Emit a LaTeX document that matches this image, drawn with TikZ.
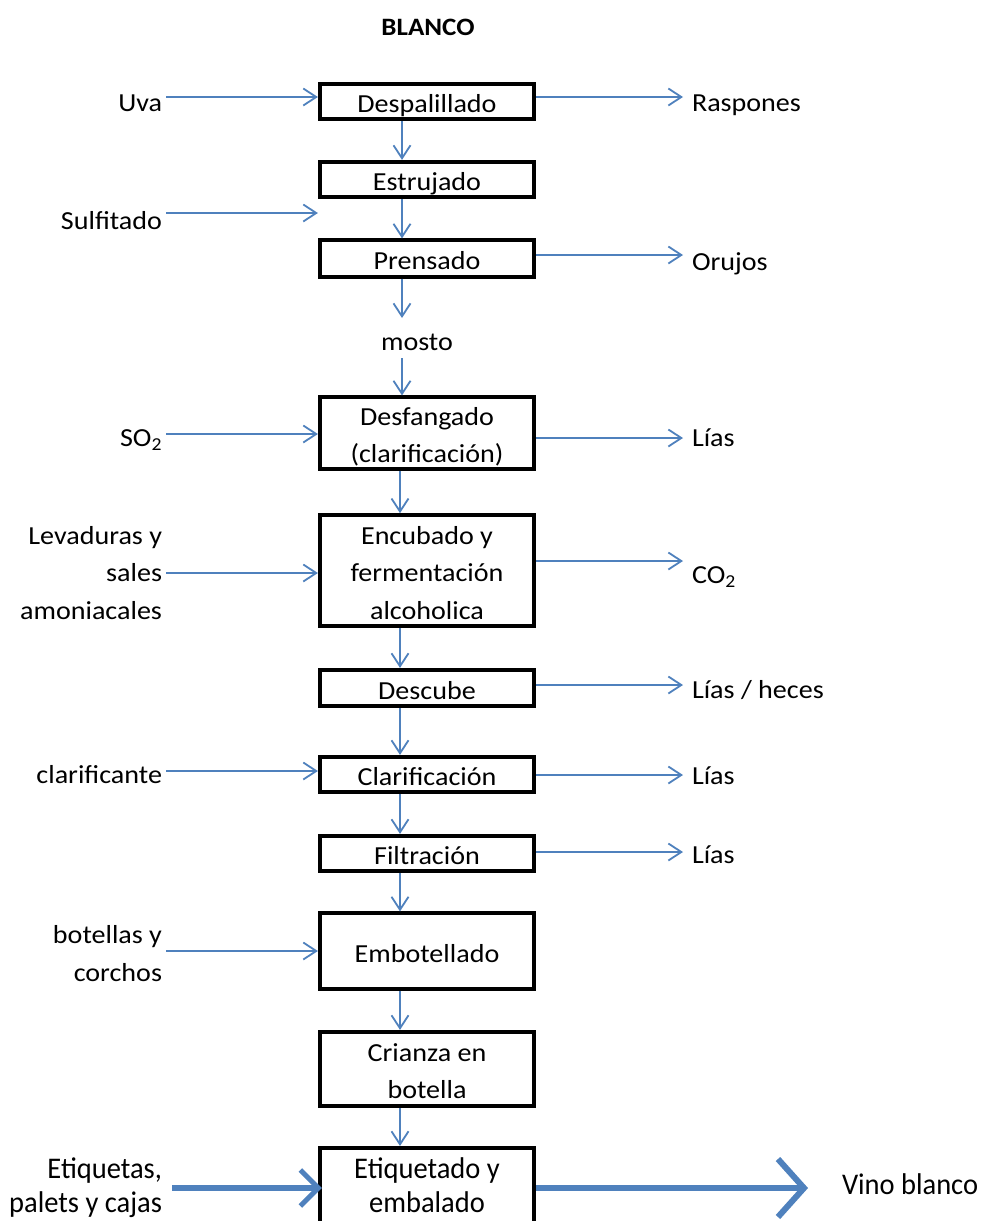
\documentclass[tikz,border=0pt]{standalone}
\usepackage{fontspec}
\setmainfont[FakeStretch=1.08]{Carlito}
\newfontfamily\narrowfont[FakeStretch=0.95]{Carlito}
\usetikzlibrary{arrows.meta}
\definecolor{flowblue}{HTML}{4F81BD}
% invisible struts that place the text inside the stage boxes
\newcommand\boxtop{\rule{0pt}{28pt}}
\newcommand\boxbot{\rule[-6pt]{0pt}{6pt}}
\newcommand\boxtopbig{\rule{0pt}{24pt}}
\newcommand\boxbotbig{\rule[-4.8pt]{0pt}{4.8pt}}

\begin{document}
\begin{tikzpicture}[x=1pt,y=-1pt,
  txt/.style={font=\fontsize{26}{37.5}\selectfont, inner sep=0pt},
  bigtxt/.style={font=\narrowfont\fontsize{30}{34}\selectfont, inner sep=0pt},
  stage/.style={txt, draw=black, line width=3.7pt,
    minimum width=214.5pt, align=center, anchor=center},
  inlbl/.style={txt, anchor=east, align=right, outer sep=4pt},
  outlbl/.style={txt, anchor=west, align=left, outer sep=9pt},
  flow/.style={draw=flowblue, line width=1.8pt,
    -{Straight Barb[length=13pt,width=17pt,line width=1.8pt]}},
  fineflow/.style={flow, line width=1.2pt},
  heavyflow/.style={draw=flowblue, line width=6pt,
    -{Straight Barb[length=18pt,width=36pt,line width=5pt]}},
  heavierflow/.style={draw=flowblue, line width=6pt,
    -{Straight Barb[length=26pt,width=58pt,line width=6pt]}}
]
\clip (0,0) rectangle (981,1221);
\fill[white] (0,0) rectangle (981,1221);

% title
\node[font=\bfseries\fontsize{25}{30}\selectfont, inner sep=0pt] (title) at (428,27) {BLANCO};

% process stages
\node[stage, minimum height=35.5pt] (desp) at (427,101.5) {\boxtop Despalillado\boxbot};
\node[stage, minimum height=35.5pt] (estr) at (427,179.5) {\boxtop Estrujado\boxbot};
\node[stage, minimum height=36.5pt] (prens) at (427,258.5) {\boxtop Prensado\boxbot};
\node[txt] (mosto) at (417,343) {\strut mosto};
\node[stage, minimum height=70.5pt] (desf) at (427,433) {\boxtop Desfangado\\(clarificación)\boxbot};
\node[stage, minimum height=111pt] (encub) at (427,570.5) {\boxtop Encubado y\\fermentación\\alcoholica\boxbot};
\node[stage, minimum height=36.5pt] (descube) at (427,688) {\boxtop Descube\boxbot};
\node[stage, minimum height=35.5pt] (clarif) at (427,774.5) {\boxtop Clarificación\boxbot};
\node[stage, minimum height=35.5pt] (filtr) at (427,853.5) {\boxtop Filtración\boxbot};
\node[stage, minimum height=75.5pt] (embot) at (427,951) {\boxtop Embotellado\boxbot};
\node[stage, minimum height=74.5pt] (crianza) at (427,1069) {\boxtop Crianza en\\botella\boxbot};
\node[stage, bigtxt, minimum height=75.2pt] (etiq) at (427,1185.4) {\boxtopbig Etiquetado y\\embalado\boxbotbig};

% inputs
\node[inlbl] (uva) at (166,104) {\strut Uva};
\node[inlbl] (sulf) at (166,222) {\strut Sulfitado};
\node[inlbl] (so2) at (166,439) {\strut SO\textsubscript{2}};
\node[inlbl] (lev) at (166,574) {\strut Levaduras y\\sales\\amoniacales\strut};
\node[inlbl] (clar) at (166,776) {\strut clarificante};
\node[inlbl] (bot) at (166,955) {\strut botellas y\\corchos\strut};
\node[bigtxt, anchor=east, align=right, outer sep=10pt] (etiqin) at (172,1188) {Etiquetas,\\palets y cajas};

% outputs
\node[outlbl] (rasp) at (683,104) {\strut Raspones};
\node[outlbl] (oruj) at (683,263) {\strut Orujos};
\node[outlbl] (lias1) at (683,439) {\strut Lías};
\node[outlbl] (co2) at (683,576) {\strut CO\textsubscript{2}};
\node[outlbl] (lias2) at (683,691) {\strut Lías / heces};
\node[outlbl] (lias3) at (683,777) {\strut Lías};
\node[outlbl] (lias4) at (683,856) {\strut Lías};
\node[bigtxt, anchor=west, outer sep=34pt] (vino) at (808,1188) {\strut Vino blanco};

% main line
\coordinate (upper) at (402,0);
\coordinate (lower) at (400,0);
\coordinate (mostoin) at (402,318);
\coordinate (mostoout) at (402,358);
\draw[flow] (desp.south -| upper) -- (estr.north -| upper);
\draw[flow] (estr.south -| upper) -- (prens.north -| upper);
\draw[flow] (prens.south -| upper) -- (mostoin);
\draw[flow] (mostoout) -- (desf.north -| upper);
\draw[flow] (desf.south -| lower) -- (encub.north -| lower);
\draw[flow] (encub.south -| lower) -- (descube.north -| lower);
\draw[flow] (descube.south -| lower) -- (clarif.north -| lower);
\draw[flow] (clarif.south -| lower) -- (filtr.north -| lower);
\draw[flow] (filtr.south -| lower) -- (embot.north -| lower);
\draw[flow] (embot.south -| lower) -- (crianza.north -| lower);
\draw[flow] (crianza.south -| lower) -- (etiq.north -| lower);

% inputs arrows
\draw[flow] (uva.east |- 0,97) -- (desp.west |- 0,97);
\draw[flow] (sulf.east |- 0,213) -- (prens.west |- 0,213);
\draw[flow] (so2.east |- 0,434) -- (desf.west |- 0,434);
\draw[flow] (lev.east |- 0,573) -- (encub.west |- 0,573);
\draw[flow] (clar.east |- 0,771) -- (clarif.west |- 0,771);
\draw[fineflow] (bot.east |- 0,951) -- (embot.west |- 0,951);
\draw[heavyflow] (etiqin.east |- 0,1188) -- ([xshift=4pt]etiq.west |- 0,1188);

% output arrows
\draw[flow] (desp.east |- 0,97) -- (rasp.west |- 0,97);
\draw[flow] (prens.east |- 0,255) -- (oruj.west |- 0,255);
\draw[flow] (desf.east |- 0,438) -- (lias1.west |- 0,438);
\draw[flow] (encub.east |- 0,561) -- (co2.west |- 0,561);
\draw[flow] (descube.east |- 0,685) -- (lias2.west |- 0,685);
\draw[flow] (clarif.east |- 0,775) -- (lias3.west |- 0,775);
\draw[flow] (filtr.east |- 0,852) -- (lias4.west |- 0,852);
\draw[heavierflow] (etiq.east |- 0,1188) -- (vino.west);
\end{tikzpicture}
\end{document}
